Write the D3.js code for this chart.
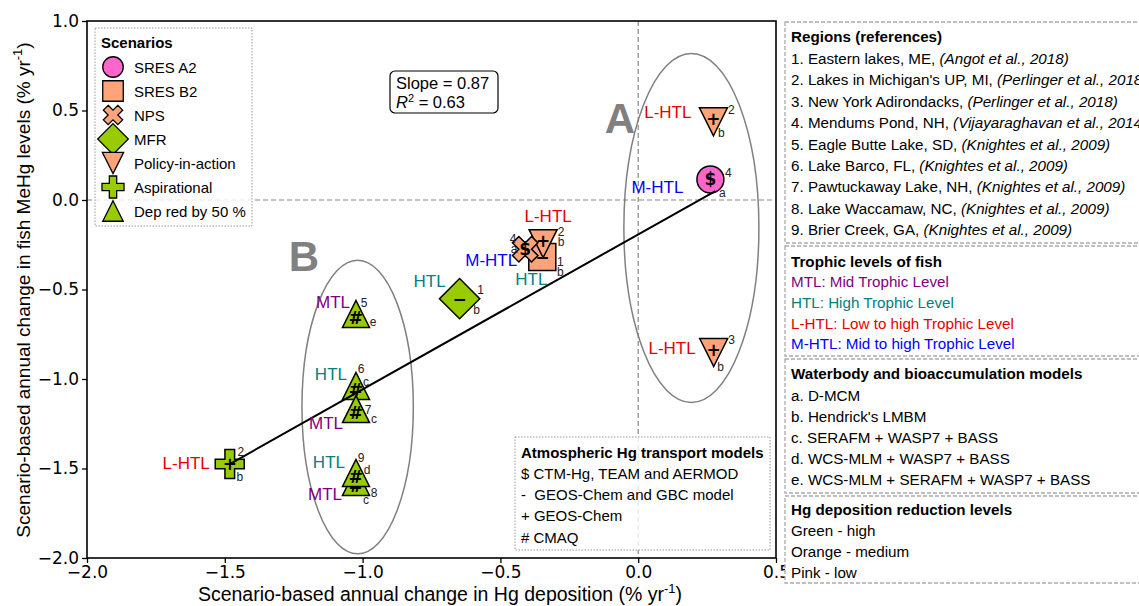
<!DOCTYPE html>
<html>
<head>
<meta charset="utf-8">
<script src="https://cdn.jsdelivr.net/npm/d3@7"></script>
<style>
body { margin: 0; background: #fff; }
text { font-family: "Liberation Sans", Arial, sans-serif; }
.tick text { font-family: "DejaVu Sans", sans-serif; font-size: 17px; }
</style>
</head>
<body>
<div class="viz"></div>
<script>
var width = 1139, height = 606,
    plot = { left: 87, right: 776, top: 21, bottom: 558 };

// ---- data ----
var scenarios = [ "SRES A2", "SRES B2", "NPS", "MFR", "Policy-in-action", "Aspirational", "Dep red by 50 %" ];
var pointScenario = [ "SRES A2", "Policy-in-action", "Policy-in-action", "SRES B2", "Policy-in-action", "NPS", "MFR",
                      "Dep red by 50 %", "Dep red by 50 %", "Dep red by 50 %", "Dep red by 50 %", "Dep red by 50 %", "Aspirational" ];
var pointX = [ 0.262, 0.273, 0.274, -0.348, -0.345, -0.41, -0.648, -1.024, -1.024, -1.024, -1.024, -1.024, -1.482 ];
var pointY = [ 0.115, 0.437, -0.852, -0.318, -0.244, -0.275, -0.551, -0.637, -1.039, -1.168, -1.575, -1.525, -1.475 ];
var pointModel = [ "$", "+", "+", "\u2212", "+", "$", "\u2212", "#", "#", "#", "#", "#", "+" ];
var pointTrophic = [ "M-HTL", "L-HTL", "L-HTL", "HTL", "L-HTL", "M-HTL", "HTL", "MTL", "HTL", "MTL", "MTL", "HTL", "L-HTL" ];
var pointRegion = [ "4", "2", "3", "1", "2", "4", "1", "5", "6", "7", "8", "9", "2" ];
var pointWater = [ "a", "b", "b", "b", "b", "a", "b", "e", "c", "c", "c", "d", "b" ];

var fitX = [ -1.482, 0.28 ];
var fitY = [ -1.475, 0.05 ];

// groups A and B: centre x, centre y, full width, full height (data units)
var groupNames = [ "A", "B" ];
var groupCx = [ 0.193, -1.018 ];
var groupCy = [ -0.156, -1.156 ];
var groupW = [ 0.49, 0.404 ];
var groupH = [ 1.95, 1.64 ];

var xTicks = [ -2.0, -1.5, -1.0, -0.5, 0.0, 0.5 ];
var yTicks = [ -2.0, -1.5, -1.0, -0.5, 0.0, 0.5, 1.0 ];

var atmosModels = [ "$ CTM-Hg, TEAM and AERMOD", "-  GEOS-Chem and GBC model", "+ GEOS-Chem", "# CMAQ" ];
var regionNames = [ "1. Eastern lakes, ME, ", "2. Lakes in Michigan's UP, MI, ", "3. New York Adirondacks, ",
                    "4. Mendums Pond, NH, ", "5. Eagle Butte Lake, SD, ", "6. Lake Barco, FL, ",
                    "7. Pawtuckaway Lake, NH, ", "8. Lake Waccamaw, NC, ", "9. Brier Creek, GA, " ];
var regionRefs = [ "(Angot et al., 2018)", "(Perlinger et al., 2018)", "(Perlinger et al., 2018)",
                   "(Vijayaraghavan et al., 2014)", "(Knightes et al., 2009)", "(Knightes et al., 2009)",
                   "(Knightes et al., 2009)", "(Knightes et al., 2009)", "(Knightes et al., 2009)" ];
var trophicLevels = [ "MTL: Mid Trophic Level", "HTL: High Trophic Level", "L-HTL: Low to high Trophic Level", "M-HTL: Mid to high Trophic Level" ];
var trophicKeys = [ "MTL", "HTL", "L-HTL", "M-HTL" ];
var waterModels = [ "a. D-MCM", "b. Hendrick's LMBM", "c. SERAFM + WASP7 + BASS", "d. WCS-MLM + WASP7 + BASS", "e. WCS-MLM + SERAFM + WASP7 + BASS" ];
var reductionLevels = [ "Green - high", "Orange - medium", "Pink - low" ];

// ---- styles ----
var pink = "#ff66cc", salmon = "#ffa47a", green = "#99cc00";
var trophicColor = { "MTL": "#800080", "HTL": "#008080", "L-HTL": "#e60000", "M-HTL": "#0000ff" };

var triUp = { draw: function( c, s ) { var r = Math.sqrt( s ) / 2; c.moveTo( 0, -r ); c.lineTo( r, r ); c.lineTo( -r, r ); c.closePath(); } };
var triDown = { draw: function( c, s ) { var r = Math.sqrt( s ) / 2; c.moveTo( 0, r ); c.lineTo( r, -r ); c.lineTo( -r, -r ); c.closePath(); } };

// type, width in px, rotation, fill, text offset
var markerStyle = {
    "SRES A2": { type: d3.symbolCircle, w: 27, rot: 0, fill: pink, ty: 0 },
    "SRES B2": { type: d3.symbolSquare, w: 27, rot: 0, fill: salmon, ty: 0 },
    "NPS": { type: d3.symbolCross, w: 27, rot: 45, fill: salmon, ty: 0 },
    "MFR": { type: d3.symbolSquare, w: 28.5, rot: 45, fill: green, ty: 0 },
    "Policy-in-action": { type: triDown, w: 28, rot: 0, fill: salmon, ty: -3 },
    "Aspirational": { type: d3.symbolCross, w: 29, rot: 0, fill: green, ty: 0 },
    "Dep red by 50 %": { type: triUp, w: 27, rot: 0, fill: green, ty: 4 }
};

function symbolArea( st, k ) {
    var w = st.w * k;
    if ( st.type === d3.symbolCircle ) return Math.PI * w * w / 4;
    if ( st.type === d3.symbolCross ) return 5 * ( w / 3 ) * ( w / 3 );
    return w * w;
}

// label placement per point: main dx, dy, anchor, sup dx, dy, sub dx, dy
var labelPlace = [
    [ -27, 8, "end", 18, -6, 12, 14 ],
    [ -22, -9, "end", 18, -12, 8, 11 ],
    [ -18, -4, "end", 18, -13, 7, 14 ],
    [ -11, 23, "middle", 18, 5, 18, 15 ],
    [ 5, -27, "middle", 18, -12, 18, -2 ],
    [ -8, 11, "end", -12, -10, -11, 0 ],
    [ -14, -17, "end", 21, -9, 17, 11 ],
    [ -6, -12, "end", 8, -11, 17, 8 ],
    [ -9, -11, "end", 5, -17, 10, -4 ],
    [ -13, 14, "end", 12, 1, 18, 10 ],
    [ -14, 13, "end", 18, 11, 10, 18 ],
    [ -11, -10, "end", 5, -15, 11, -3 ],
    [ -20, -1, "end", 11, -12, 10, 13 ]
];

var svg = d3.select( ".viz" ).append( "svg" )
    .attr( "width", width ).attr( "height", height );

var x = d3.scaleLinear().domain( [ -2, 0.5 ] ).range( [ plot.left, plot.right ] );
var y = d3.scaleLinear().domain( [ -2, 1 ] ).range( [ plot.bottom, plot.top ] );

// zero lines
svg.append( "line" ).attr( "x1", plot.left ).attr( "x2", plot.right ).attr( "y1", y( 0 ) ).attr( "y2", y( 0 ) )
    .attr( "stroke", "#888" ).attr( "stroke-width", 1.2 ).attr( "stroke-dasharray", "5,3" );
svg.append( "line" ).attr( "x1", x( 0 ) ).attr( "x2", x( 0 ) ).attr( "y1", plot.top ).attr( "y2", plot.bottom )
    .attr( "stroke", "#888" ).attr( "stroke-width", 1.2 ).attr( "stroke-dasharray", "5,3" );

// group ellipses
groupNames.forEach( function( g, i ) {
    svg.append( "ellipse" )
        .attr( "cx", x( groupCx[ i ] ) ).attr( "cy", y( groupCy[ i ] ) )
        .attr( "rx", ( x( groupW[ i ] ) - x( 0 ) ) / 2 ).attr( "ry", ( y( 0 ) - y( groupH[ i ] ) ) / 2 )
        .attr( "fill", "none" ).attr( "stroke", "#808080" ).attr( "stroke-width", 1.5 );
} );
svg.append( "text" ).attr( "x", 620 ).attr( "y", 133 ).attr( "text-anchor", "middle" )
    .style( "font-size", "42px" ).style( "font-weight", "bold" ).attr( "fill", "#808080" ).text( "A" );
svg.append( "text" ).attr( "x", 304 ).attr( "y", 271 ).attr( "text-anchor", "middle" )
    .style( "font-size", "42px" ).style( "font-weight", "bold" ).attr( "fill", "#808080" ).text( "B" );

// markers
var pts = d3.range( pointX.length );
var marks = svg.selectAll( ".pt" ).data( pts ).enter().append( "g" ).attr( "class", "pt" )
    .attr( "transform", function( i ) { return "translate(" + x( pointX[ i ] ) + "," + y( pointY[ i ] ) + ")"; } );
marks.append( "path" )
    .attr( "d", function( i ) { var st = markerStyle[ pointScenario[ i ] ]; return d3.symbol().type( st.type ).size( symbolArea( st, 1 ) )(); } )
    .attr( "transform", function( i ) { return "rotate(" + markerStyle[ pointScenario[ i ] ].rot + ")"; } )
    .attr( "fill", function( i ) { return markerStyle[ pointScenario[ i ] ].fill; } )
    .attr( "stroke", "#000" ).attr( "stroke-width", 1.5 );
marks.append( "text" )
    .attr( "y", function( i ) { return markerStyle[ pointScenario[ i ] ].ty; } )
    .attr( "text-anchor", "middle" ).attr( "dominant-baseline", "central" )
    .style( "font-family", "DejaVu Sans, sans-serif" ).style( "font-weight", "bold" ).style( "font-size", "17px" )
    .text( function( i ) { return pointModel[ i ]; } );

// fitted line
svg.append( "line" )
    .attr( "x1", x( fitX[ 0 ] ) ).attr( "y1", y( fitY[ 0 ] ) ).attr( "x2", x( fitX[ 1 ] ) ).attr( "y2", y( fitY[ 1 ] ) )
    .attr( "stroke", "#000" ).attr( "stroke-width", 2 );

// point labels
var labs = svg.selectAll( ".lab" ).data( pts ).enter().append( "g" ).attr( "class", "lab" )
    .attr( "transform", function( i ) { return "translate(" + x( pointX[ i ] ) + "," + y( pointY[ i ] ) + ")"; } );
labs.append( "text" )
    .attr( "x", function( i ) { return labelPlace[ i ][ 0 ]; } )
    .attr( "y", function( i ) { return labelPlace[ i ][ 1 ]; } )
    .attr( "text-anchor", function( i ) { return labelPlace[ i ][ 2 ]; } )
    .attr( "dominant-baseline", "central" )
    .style( "font-size", "17px" )
    .attr( "fill", function( i ) { return trophicColor[ pointTrophic[ i ] ]; } )
    .text( function( i ) { return pointTrophic[ i ]; } );
labs.append( "text" )
    .attr( "x", function( i ) { return labelPlace[ i ][ 3 ]; } )
    .attr( "y", function( i ) { return labelPlace[ i ][ 4 ]; } )
    .attr( "text-anchor", "middle" ).attr( "dominant-baseline", "central" )
    .style( "font-size", "12px" ).attr( "fill", "#222" )
    .text( function( i ) { return pointRegion[ i ]; } );
labs.append( "text" )
    .attr( "x", function( i ) { return labelPlace[ i ][ 5 ]; } )
    .attr( "y", function( i ) { return labelPlace[ i ][ 6 ]; } )
    .attr( "text-anchor", "middle" ).attr( "dominant-baseline", "central" )
    .style( "font-size", "12px" ).attr( "fill", "#222" )
    .text( function( i ) { return pointWater[ i ]; } );

svg.append( "rect" ).attr( "x", plot.left ).attr( "y", plot.top )
    .attr( "width", plot.right - plot.left ).attr( "height", plot.bottom - plot.top )
    .attr( "fill", "none" ).attr( "stroke", "#000" ).attr( "stroke-width", 1.6 );

var xl = svg.append( "text" ).attr( "x", 440 ).attr( "y", 601 ).attr( "text-anchor", "middle" ).style( "font-size", "19.5px" );
xl.append( "tspan" ).text( "Scenario-based annual change in Hg deposition (% yr" );
xl.append( "tspan" ).attr( "dy", -8 ).style( "font-size", "13px" ).text( "-1" );
xl.append( "tspan" ).attr( "dy", 8 ).text( ")" );

var yl = svg.append( "text" ).attr( "transform", "translate(30,290) rotate(-90)" ).attr( "text-anchor", "middle" ).style( "font-size", "19px" );
yl.append( "tspan" ).text( "Scenario-based annual change in fish MeHg levels (% yr" );
yl.append( "tspan" ).attr( "dy", -8 ).style( "font-size", "13px" ).text( "-1" );
yl.append( "tspan" ).attr( "dy", 8 ).text( ")" );

// slope box
svg.append( "rect" ).attr( "x", 390 ).attr( "y", 71 ).attr( "width", 108 ).attr( "height", 42 ).attr( "rx", 5 )
    .attr( "fill", "#fff" ).attr( "stroke", "#000" ).attr( "stroke-width", 1.2 );
svg.append( "text" ).attr( "x", 396 ).attr( "y", 89 ).style( "font-size", "16.5px" ).text( "Slope = 0.87" );
var r2 = svg.append( "text" ).attr( "x", 396 ).attr( "y", 108 ).style( "font-size", "16.5px" );
r2.append( "tspan" ).style( "font-style", "italic" ).text( "R" );
r2.append( "tspan" ).attr( "dy", -6 ).style( "font-size", "11px" ).text( "2" );
r2.append( "tspan" ).attr( "dy", 6 ).text( " = 0.63" );

// scenario legend
var leg = svg.append( "g" );
leg.append( "rect" ).attr( "x", 95 ).attr( "y", 28 ).attr( "width", 157 ).attr( "height", 198 )
    .attr( "fill", "#fff" ).attr( "fill-opacity", 0.8 ).attr( "stroke", "#999" ).attr( "stroke-dasharray", "1.5,1.5" );
leg.append( "text" ).attr( "x", 101 ).attr( "y", 48 ).style( "font-size", "15px" ).style( "font-weight", "bold" ).text( "Scenarios" );
var legRows = leg.selectAll( ".legrow" ).data( scenarios ).enter().append( "g" ).attr( "class", "legrow" )
    .attr( "transform", function( d, i ) { return "translate(113," + ( 67 + i * 24 ) + ")"; } );
legRows.append( "path" )
    .attr( "d", function( d ) { var st = markerStyle[ d ]; return d3.symbol().type( st.type ).size( symbolArea( st, 0.76 ) )(); } )
    .attr( "transform", function( d ) { return "rotate(" + markerStyle[ d ].rot + ")"; } )
    .attr( "fill", function( d ) { return markerStyle[ d ].fill; } )
    .attr( "stroke", "#000" ).attr( "stroke-width", 1.3 );
legRows.append( "text" ).attr( "x", 21 ).attr( "dominant-baseline", "central" ).style( "font-size", "15px" )
    .text( function( d ) { return d; } );

// atmospheric model box
var atm = svg.append( "g" );
atm.append( "rect" ).attr( "x", 515 ).attr( "y", 437 ).attr( "width", 255 ).attr( "height", 113 )
    .attr( "fill", "#fff" ).attr( "fill-opacity", 0.8 ).attr( "stroke", "#999" ).attr( "stroke-dasharray", "1.5,1.5" );
atm.append( "text" ).attr( "x", 521 ).attr( "y", 458 ).style( "font-size", "15px" ).style( "font-weight", "bold" )
    .text( "Atmospheric Hg transport models" );
atm.selectAll( ".am" ).data( atmosModels ).enter().append( "text" )
    .attr( "x", 521 ).attr( "y", function( d, i ) { return 479 + i * 21.2; } )
    .style( "font-size", "15px" ).style( "white-space", "pre" ).attr( "xml:space", "preserve" )
    .text( function( d ) { return d; } );

// x axis before the right panel, y axis anywhere
svg.append( "g" ).attr( "transform", "translate(0," + plot.bottom + ")" )
    .call( d3.axisBottom( x ).tickValues( xTicks ).tickFormat( d3.format( ".1f" ) ).tickSize( 5 ).tickPadding( 3 ) )
    .call( function( g ) { g.select( ".domain" ).remove(); g.selectAll( "line" ).attr( "stroke-width", 1.3 ); } );
svg.append( "g" ).attr( "transform", "translate(" + plot.left + ",0)" )
    .call( d3.axisLeft( y ).tickValues( yTicks ).tickFormat( d3.format( ".1f" ) ).tickSize( 5 ).tickPadding( 3 ) )
    .call( function( g ) { g.select( ".domain" ).remove(); g.selectAll( "line" ).attr( "stroke-width", 1.3 ); } );

// right panel
var side = svg.append( "g" );
var sideFont = "15.2px";
function sideBox( y0, y1 ) {
    side.append( "rect" ).attr( "x", 785 ).attr( "y", y0 ).attr( "width", 420 ).attr( "height", y1 - y0 )
        .attr( "fill", "#fff" ).attr( "stroke", "#aaa" ).attr( "stroke-width", 1.3 ).attr( "stroke-dasharray", "4,2" );
}
function sideTitle( t, yy ) {
    side.append( "text" ).attr( "x", 791 ).attr( "y", yy ).style( "font-size", sideFont ).style( "font-weight", "bold" ).text( t );
}
sideBox( 22, 243 );
sideBox( 246, 356 );
sideBox( 359, 493 );
sideBox( 496, 583 );

sideTitle( "Regions (references)", 42 );
regionNames.forEach( function( r, i ) {
    var t = side.append( "text" ).attr( "x", 791 ).attr( "y", 64 + i * 21.4 ).style( "font-size", sideFont );
    t.append( "tspan" ).text( r );
    t.append( "tspan" ).style( "font-style", "italic" ).text( regionRefs[ i ] );
} );

sideTitle( "Trophic levels of fish", 267 );
trophicLevels.forEach( function( r, i ) {
    side.append( "text" ).attr( "x", 791 ).attr( "y", 287 + i * 20.8 ).style( "font-size", sideFont )
        .attr( "fill", trophicColor[ trophicKeys[ i ] ] ).text( r );
} );

sideTitle( "Waterbody and bioaccumulation models", 379 );
waterModels.forEach( function( r, i ) {
    side.append( "text" ).attr( "x", 791 ).attr( "y", 401 + i * 21 ).style( "font-size", sideFont ).text( r );
} );

sideTitle( "Hg deposition reduction levels", 515 );
reductionLevels.forEach( function( r, i ) {
    side.append( "text" ).attr( "x", 791 ).attr( "y", 536 + i * 21 ).style( "font-size", sideFont ).text( r );
} );
</script>
</body>
</html>
